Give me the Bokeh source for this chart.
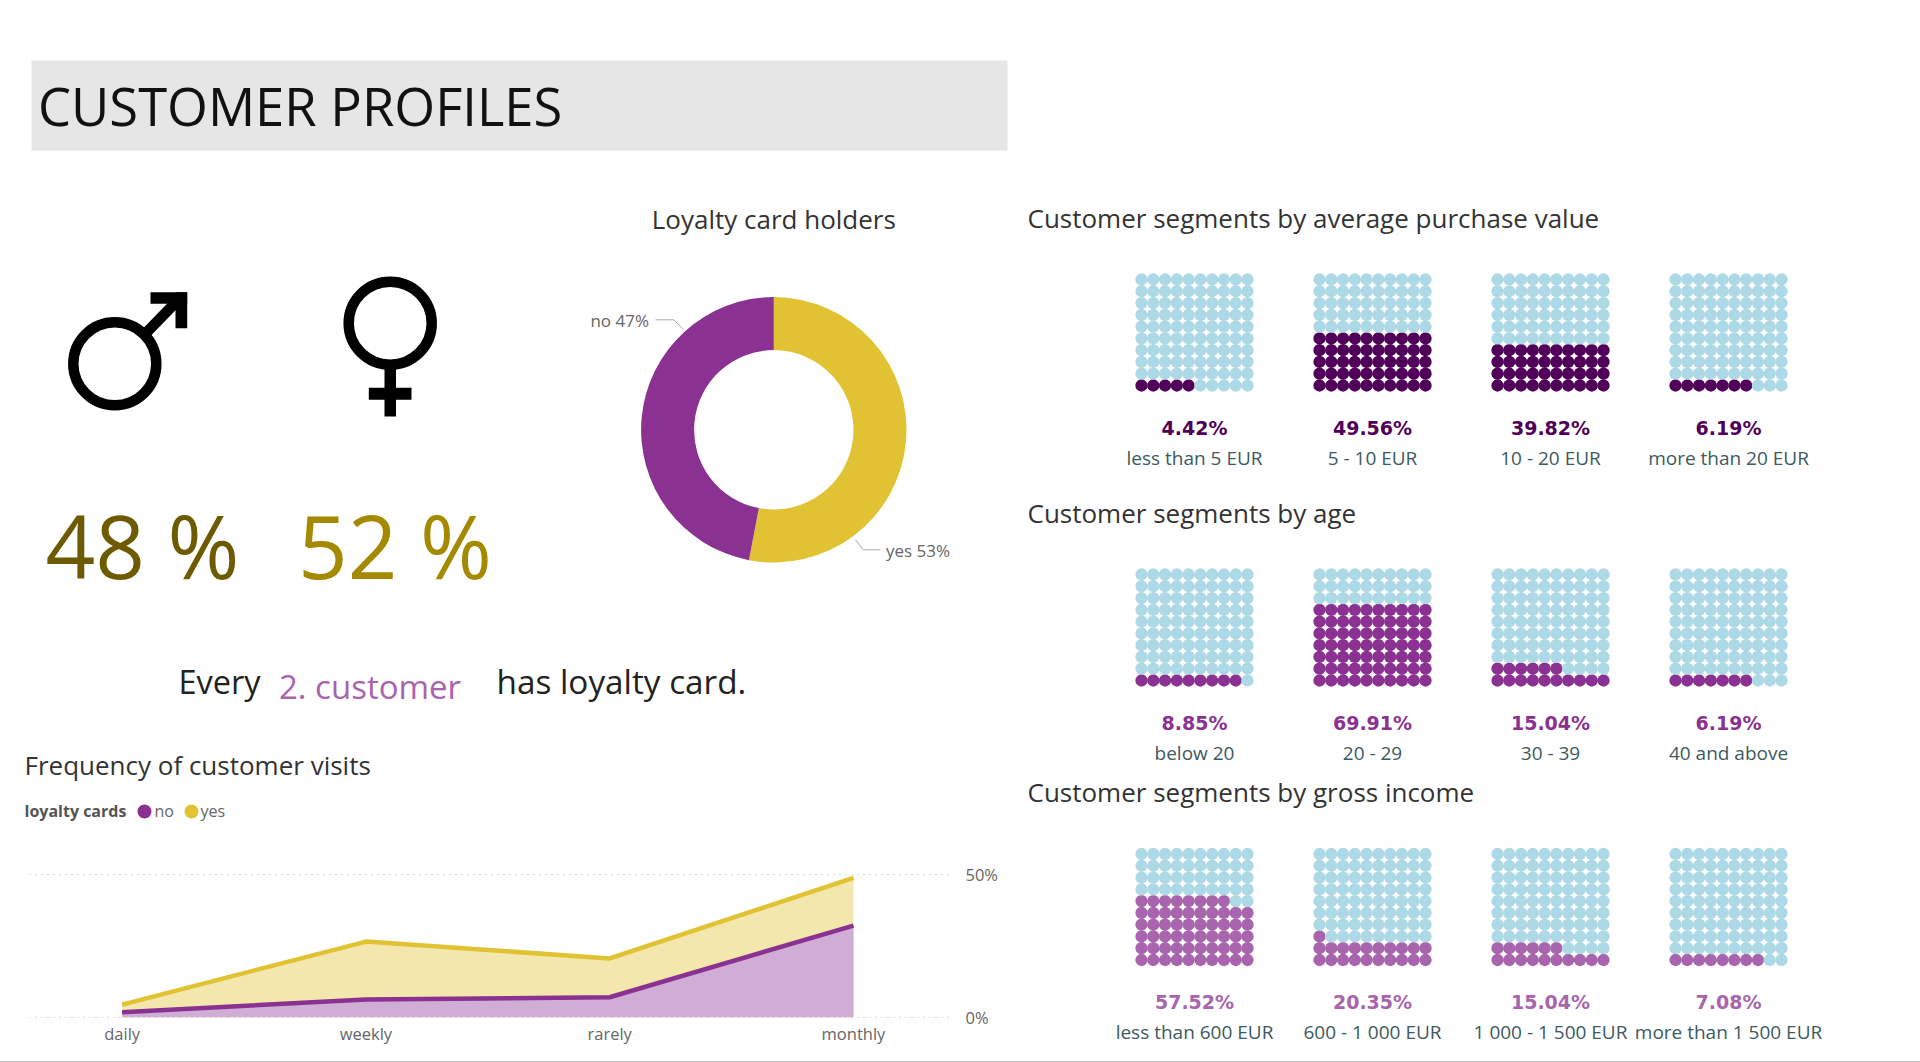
import numpy as np
from bokeh.core.properties import value
from bokeh.embed import file_html
from bokeh.layouts import column, row
from bokeh.models import FixedTicker, Range1d, Spacer
from bokeh.plotting import figure
from bokeh.resources import INLINE

# ---- data ----
title_text = "CUSTOMER PROFILES"
male_share = "48 %"
female_share = "52 %"
loyalty_labels = ["yes", "no"]
loyalty_values = [53, 47]

visit_categories = ["daily", "weekly", "rarely", "monthly"]
visits_yes = [4.4, 26.5, 20.6, 48.8]
visits_no = [1.75, 6.2, 7.0, 32.1]

purchase_labels = ["less than 5 EUR", "5 - 10 EUR", "10 - 20 EUR", "more than 20 EUR"]
purchase_values = [4.42, 49.56, 39.82, 6.19]
age_labels = ["below 20", "20 - 29", "30 - 39", "40 and above"]
age_values = [8.85, 69.91, 15.04, 6.19]
income_labels = ["less than 600 EUR", "600 - 1 000 EUR", "1 000 - 1 500 EUR", "more than 1 500 EUR"]
income_values = [57.52, 20.35, 15.04, 7.08]

# ---- style ----
YELLOW = "#e0c232"
PURPLE = "#8a3191"
DARK_PURPLE = "#510059"
LIGHT_PURPLE = "#a864ac"
DOT_BG = "#add8e6"
FONT = "Open Sans"


def canvas(x0, y0, w, h):
    """A figure whose scale is the page's pixel grid, y downwards."""
    p = figure(width=w, height=h, x_range=Range1d(x0, x0 + w), y_range=Range1d(y0 + h, y0),
               toolbar_location=None, output_backend="svg", min_border=0)
    p.axis.visible = False
    p.grid.visible = False
    p.outline_line_color = None
    return p


def put(p, x, y, s, size, color, align="left", font=FONT, style="normal", baseline="middle"):
    p.text(x=[x], y=[y], text=[s], text_font=value(font), text_font_size=value(f"{size}px"),
           text_color=color, text_align=align, text_baseline=baseline, text_font_style=style)


# ---- banner ----
banner = canvas(0, 0, 1020, 195)
banner.quad(left=[31], right=[1007], top=[60], bottom=[150], fill_color="#e6e6e6", line_color=None)
put(banner, 37.5, 105, title_text, 52.5, "#111111")

# ---- gender icons and shares ----
gender = canvas(0, 195, 580, 425)
gender.circle(x=[114.3], y=[363.3], radius=41.5, fill_color=None, line_color="black", line_width=10.5)
gender.line(x=[146, 180], y=[332, 297], line_color="black", line_width=10.5)
gender.quad(left=[150], right=[186.7], top=[291.7], bottom=[303.3], fill_color="black", line_color=None)
gender.quad(left=[175], right=[186.7], top=[291.7], bottom=[327.7], fill_color="black", line_color=None)
gender.circle(x=[389.7], y=[322.7], radius=41.5, fill_color=None, line_color="black", line_width=10.5)
gender.quad(left=[384], right=[395.5], top=[368], bottom=[416], fill_color="black", line_color=None)
gender.quad(left=[368.3], right=[411], top=[387.3], bottom=[399.3], fill_color="black", line_color=None)
put(gender, 45, 544, male_share, 87, "#6e5a00")
put(gender, 297.5, 544, female_share, 87, "#a58900")

# ---- donut ----
cx, cy = 773.3, 429.3
donut = figure(width=440, height=425, x_range=Range1d(580 - cx, 1020 - cx), y_range=Range1d(cy - 620, cy - 195),
               toolbar_location=None, output_backend="svg", min_border=0)
donut.axis.visible = False
donut.grid.visible = False
donut.outline_line_color = None
shares = np.array(loyalty_values, dtype=float)
bounds = np.pi / 2 - np.concatenate([[0], np.cumsum(shares) / shares.sum() * 2 * np.pi])
donut.annular_wedge(x=0, y=0, inner_radius=79.7, outer_radius=132.7, start_angle=bounds[1:], end_angle=bounds[:-1],
                    fill_color=[YELLOW, PURPLE], line_color=None)
put(donut, 0, cy - 218, "Loyalty card holders", 26, "#333333", align="center")
donut.line(x=[655 - cx, 673.3 - cx, 682.7 - cx], y=[cy - 319.3, cy - 319.3, cy - 328.7], line_color="#aaaaaa", line_width=1)
donut.line(x=[855 - cx, 862.7 - cx, 880 - cx], y=[cy - 539.3, cy - 549.3, cy - 549.3], line_color="#aaaaaa", line_width=1)
put(donut, 648.5 - cx, cy - 320, f"{loyalty_labels[1]} {loyalty_values[1]}%", 17, "#666666", align="right")
put(donut, 885.5 - cx, cy - 550, f"{loyalty_labels[0]} {loyalty_values[0]}%", 17, "#666666")

# ---- sentence, area chart header ----
middle = canvas(0, 620, 1020, 210)
put(middle, 178, 680.5, "Every", 32.5, "#222222")
put(middle, 278.5, 685.5, "2. customer", 33, LIGHT_PURPLE)
put(middle, 496, 680.5, "has loyalty card.", 33.3, "#222222")
put(middle, 24, 764.5, "Frequency of customer visits", 26, "#333333")
put(middle, 24, 810, "loyalty cards", 16, "#555555", style="bold")
middle.scatter(x=[144, 191], y=[811, 811], size=14, fill_color=[PURPLE, YELLOW], line_color=None)
put(middle, 154, 810, "no", 16, "#666666")
put(middle, 200, 810, "yes", 16, "#666666")

# ---- area chart ----
xs = np.arange(len(visit_categories))
area = figure(width=1020, height=231, x_range=Range1d(-0.38, 3.398), y_range=Range1d(-1.156, 58.4),
              toolbar_location=None, output_backend="svg", min_border_left=29, min_border_right=70,
              min_border_top=20, min_border_bottom=41, y_axis_location="right")
area.outline_line_color = None
area.xgrid.visible = False
area.ygrid.ticker = FixedTicker(ticks=[0, 50])
area.ygrid.grid_line_color = "#b4b4b4"
area.ygrid.grid_line_dash = "1 5"
area.xaxis.ticker = FixedTicker(ticks=list(xs))
area.xaxis.major_label_overrides = {int(i): c for i, c in zip(xs, visit_categories)}
area.yaxis.ticker = FixedTicker(ticks=[0, 50])
area.yaxis.major_label_overrides = {0: "0%", 50: "50%"}
for ax in (area.xaxis[0], area.yaxis[0]):
    ax.axis_line_color = None
    ax.major_tick_line_color = None
    ax.minor_tick_line_color = None
    ax.major_tick_out = 0
    ax.major_tick_in = 0
    ax.minor_tick_out = 0
    ax.major_label_text_font = FONT
    ax.major_label_text_font_size = "16.5px"
    ax.major_label_text_color = "#666666"
area.xaxis.major_label_standoff = 1
area.yaxis.major_label_standoff = 15
area.varea(x=xs, y1=0, y2=visits_yes, fill_color="#f3e7ad")
area.varea(x=xs, y1=0, y2=visits_no, fill_color="#cfadd5")
area.line(x=xs, y=visits_yes, line_color=YELLOW, line_width=4.5)
area.line(x=xs, y=visits_no, line_color=PURPLE, line_width=4.5)

# ---- waffles ----
PANEL_X = 1141.5
PANEL_STEP = 178
PITCH = 11.78


def waffle(y0, h, heading, labels, values, color, bottom_row):
    p = canvas(1020, y0, 900, h)
    put(p, 1027, bottom_row - 168.5, heading, 26, "#333333")
    for i, (lab, val) in enumerate(zip(labels, values)):
        filled = int(np.ceil(val))
        cols, rows = np.meshgrid(np.arange(10), np.arange(10))
        cols, rows = cols.ravel(), rows.ravel()
        colors = [color if r * 10 + c < filled else DOT_BG for r, c in zip(rows, cols)]
        left = PANEL_X + i * PANEL_STEP
        p.scatter(x=left + cols * PITCH - 0.5, y=bottom_row - rows * PITCH - 0.5, size=12.3, fill_color=colors, line_color=None)
        mid = left + 4.5 * PITCH - 0.5
        put(p, mid, bottom_row + 41.5, f"{val:.2f}%", 19, color, align="center", font="DejaVu Sans", style="bold")
        put(p, mid, bottom_row + 71.5, lab, 19, "#3c5a60", align="center")
    return p


w1 = waffle(0, 493, "Customer segments by average purchase value", purchase_labels, purchase_values, DARK_PURPLE, 385.5)
w2 = waffle(493, 279, "Customer segments by age", age_labels, age_values, PURPLE, 680.5)
w3 = waffle(772, 289, "Customer segments by gross income", income_labels, income_values, LIGHT_PURPLE, 960)

strip = Spacer(width=1920, height=1, styles={"background-color": "#c4c4c4"})

left_col = column(row(banner), row(gender, donut, spacing=0), row(middle), row(area), spacing=0)
right_col = column(row(w1), row(w2), row(w3), spacing=0)
root = column(row(left_col, right_col, spacing=0), strip, spacing=0)

open("out.html", "w").write(file_html(root, INLINE))
